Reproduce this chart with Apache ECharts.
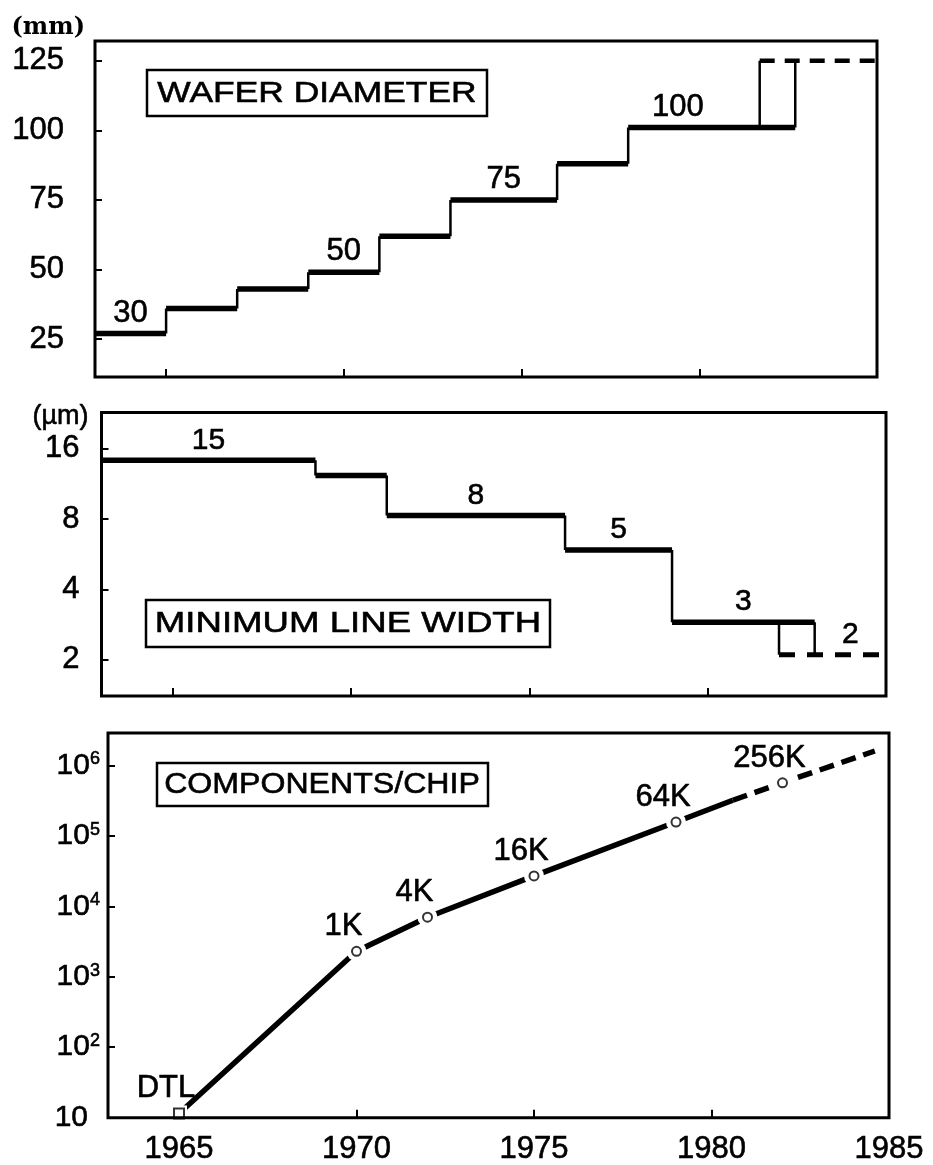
<!DOCTYPE html>
<html><head><meta charset="utf-8">
<script src="https://cdn.jsdelivr.net/npm/echarts@6/dist/echarts.min.js"></script>
<style>html,body{margin:0;padding:0;background:#fff}#c{width:933px;height:1165px}</style>
</head><body><div id="c"></div>
<script>
// ---------------- data ----------------
const yearLabels = [1965, 1970, 1975, 1980, 1985];
const yearTicks = [1965, 1970, 1975, 1980];

// Wafer diameter (mm): step edges (years) and level of each step
const waferEdges = [1963, 1965, 1967, 1969, 1971, 1973, 1976, 1978, 1982.7];
const waferMM = [27, 36, 43, 49, 62, 75, 88, 101];
const waferNextEdges = [1981.7, 1982.7];
const waferNextMM = 125;
const waferNextEnd = 1985;
const waferLabelText = ['30', '50', '75', '100'];
const waferLabelYear = [1964, 1970, 1974.5, 1979.4];
const waferLabelMM = [27, 49, 75, 101];
const waferTicks = [25, 50, 75, 100, 125];

// Minimum line width (µm)
const lwEdges = [1963, 1969, 1971, 1976, 1979, 1983];
const lwUM = [14.3, 12.3, 8.3, 5.9, 2.9];
const lwNextEdges = [1982, 1983];
const lwNextUM = 2.1;
const lwNextEnd = 1985;
const lwLabelText = ['15', '8', '5', '3', '2'];
const lwLabelYear = [1966, 1973.5, 1977.5, 1981, 1984];
const lwLabelUM = [14.3, 8.3, 5.9, 2.9, 2.1];
const lwTicks = [2, 4, 8, 16];

// Components per chip
const chipNames = ['DTL', '1K', '4K', '16K', '64K', '256K'];
const chipYears = [1965, 1970, 1972, 1975, 1979, 1982];
const chipCount = [11.5, 2300, 7000, 27000, 157000, 566000];
const chipDashYear = 1980.6, chipDashCount = 320000;   // where the line turns dashed
const chipEndYear = 1984.6, chipEndCount = 1600000;    // end of projection
const chipTicks = [10, 100, 1000, 10000, 100000, 1000000];

// ---------------- helpers ----------------
function horiz(edges, vals) {
  const d = [];
  vals.forEach((v, i) => { d.push([edges[i], v], [edges[i + 1], v], [edges[i + 1], '-']); });
  return d;
}
function vert(edges, vals) {
  const d = [];
  for (let i = 1; i < vals.length; i++) {
    d.push([edges[i], vals[i - 1]], [edges[i], vals[i]], [edges[i], '-']);
  }
  return d;
}
const BLACK = '#000';
const FONT = '"Liberation Sans", Arial, sans-serif';
const INK = { textBorderColor: BLACK, textBorderWidth: 0.6, opacity: 1 };

function lineSeries(idx, data, width, type) {
  return {
    type: 'line', xAxisIndex: idx, yAxisIndex: idx, data: data, symbol: 'none',
    connectNulls: false, silent: true, animation: false, z: 2,
    lineStyle: { color: BLACK, width: width, type: type || 'solid', cap: 'butt' }
  };
}
function labelSeries(idx, years, vals, texts, fontSize, offset, z) {
  return {
    type: 'scatter', xAxisIndex: idx, yAxisIndex: idx, symbolSize: 0, silent: true, animation: false, z: z || 3,
    itemStyle: { color: BLACK },
    data: years.map((y, i) => ({ name: texts[i], value: [y, vals[i]] })),
    label: Object.assign({ show: true, position: 'top', distance: 5, offset: offset || [0, 0], formatter: '{b}', color: BLACK, fontSize: fontSize, fontFamily: FONT }, INK)
  };
}

const wafLast = waferMM[waferMM.length - 1];
const lwLast = lwUM[lwUM.length - 1];

const chipPts = chipYears.map((y, i) => [y, chipCount[i]]);
const solidChip = chipPts.slice(0, 5).concat([[chipDashYear, chipDashCount]]);
const dashChip = [[chipDashYear, chipDashCount], chipPts[5], [chipEndYear, chipEndCount]];

const grids = [
  { left: 95, right: 56, top: 41, height: 336 },
  { left: 101.5, right: 47, top: 412.5, height: 283.5 },
  { left: 108, right: 44, top: 733, height: 385 }
].map(g => Object.assign(g, { show: true, borderColor: BLACK, borderWidth: 3, backgroundColor: 'transparent', z: 10 }));

function xAxis(idx, showLabels) {
  return {
    type: 'value', gridIndex: idx, min: 1963, max: 1985,
    axisLine: { show: false }, splitLine: { show: false },
    axisTick: { show: true, inside: true, length: 8, lineStyle: { color: BLACK, width: 2 }, customValues: yearTicks },
    axisLabel: Object.assign({ show: showLabels, customValues: yearLabels, color: BLACK, fontSize: 31, fontFamily: FONT, margin: 16,
      formatter: v => String(v) }, INK)
  };
}
const yTick = (vals) => ({ show: true, inside: true, length: 7, lineStyle: { color: BLACK, width: 2 }, customValues: vals });

const option = {
  animation: false,
  backgroundColor: '#fff',
  textStyle: { fontFamily: FONT, color: BLACK },
  grid: grids,
  xAxis: [xAxis(0, false), xAxis(1, false), xAxis(2, true)],
  yAxis: [
    {
      type: 'value', gridIndex: 0, min: 11.4, max: 132.1,
      name: '(mm)', nameLocation: 'end', nameGap: 1,
      nameTextStyle: { fontFamily: '"DejaVu Serif", serif', fontWeight: 'bold', fontSize: 24, color: BLACK, align: 'right', verticalAlign: 'bottom', padding: [0, 10, 0, 0] },
      axisLine: { show: false }, splitLine: { show: false },
      axisTick: yTick(waferTicks),
      axisLabel: Object.assign({ customValues: waferTicks, color: BLACK, fontSize: 31, fontFamily: FONT, margin: 31 }, INK)
    },
    {
      type: 'log', logBase: 2, gridIndex: 1, min: 1.40, max: 22.9,
      name: '(µm)', nameLocation: 'end', nameGap: -4,
      nameTextStyle: Object.assign({ fontFamily: FONT, fontSize: 27, color: BLACK, align: 'right', verticalAlign: 'middle', padding: [0, 13, 0, 0] }, INK),
      axisLine: { show: false }, splitLine: { show: false },
      axisTick: yTick(lwTicks),
      axisLabel: Object.assign({ customValues: lwTicks, color: BLACK, fontSize: 31, fontFamily: FONT, margin: 22 }, INK)
    },
    {
      type: 'log', logBase: 10, gridIndex: 2, min: 10, max: 2880000,
      axisLine: { show: false }, splitLine: { show: false },
      axisTick: yTick(chipTicks),
      axisLabel: {
        customValues: chipTicks, color: BLACK, fontSize: 30, fontFamily: FONT, margin: 8,
        formatter: function (v) {
          const e = Math.round(Math.log10(v));
          return e === 1 ? '{p|10}' : '{b|10}{s|' + e + '}';
        },
        rich: {
          b: Object.assign({ fontSize: 30, fontFamily: FONT, color: BLACK }, INK),
          p: Object.assign({ fontSize: 30, fontFamily: FONT, color: BLACK, padding: [0, 12, 0, 0] }, INK),
          s: Object.assign({ fontSize: 18, fontFamily: FONT, color: BLACK, verticalAlign: 'top' }, INK)
        }
      }
    }
  ],
  series: [
    // wafer diameter
    lineSeries(0, horiz(waferEdges, waferMM), 5.5),
    lineSeries(0, vert(waferEdges, waferMM), 2.5),
    lineSeries(0, [[waferNextEdges[0], wafLast], [waferNextEdges[0], waferNextMM], [waferNextEdges[0], '-'],
                   [waferNextEdges[1], wafLast], [waferNextEdges[1], waferNextMM]], 2.5),
    lineSeries(0, [[waferNextEdges[0], waferNextMM], [waferNextEnd, waferNextMM]], 4.5, [15, 10]),
    labelSeries(0, waferLabelYear, waferLabelMM, waferLabelText, 31),
    // minimum line width
    lineSeries(1, horiz(lwEdges, lwUM), 5.5),
    lineSeries(1, vert(lwEdges, lwUM), 2.5),
    lineSeries(1, [[lwNextEdges[0], lwLast], [lwNextEdges[0], lwNextUM], [lwNextEdges[0], '-'],
                   [lwNextEdges[1], lwLast], [lwNextEdges[1], lwNextUM]], 2.5),
    lineSeries(1, [[lwNextEdges[0], lwNextUM], [lwNextEnd, lwNextUM]], 5, [16, 12]),
    labelSeries(1, lwLabelYear, lwLabelUM, lwLabelText, 30),
    // components per chip
    lineSeries(2, solidChip, 5.5),
    lineSeries(2, dashChip, 5.5, [15, 8]),
    {
      type: 'scatter', xAxisIndex: 2, yAxisIndex: 2, silent: true, animation: false, z: 5,
      symbol: 'circle', symbolSize: 20,
      itemStyle: { color: '#ffffff', opacity: 1 },
      data: chipPts.map((p, i) => (i === 0 ? { value: p, symbol: 'rect', symbolSize: 16 } : { value: p }))
    },
    {
      type: 'scatter', xAxisIndex: 2, yAxisIndex: 2, silent: true, animation: false, z: 6,
      symbol: 'circle', symbolSize: 9,
      itemStyle: { color: '#fff', borderColor: BLACK, borderWidth: 2 },
      data: chipPts.map((p, i) => (i === 0 ? { value: p, symbol: 'rect', symbolSize: 10 } : { value: p }))
    },
    // point names, placed through the same scales
    labelSeries(2, chipYears, chipCount, chipNames, 31, [-13, -4], 7)
  ],
  graphic: [
    { type: 'rect', shape: { x: 147, y: 70, width: 340, height: 46 }, style: { fill: 'none', stroke: BLACK, lineWidth: 2.5 } },
    { type: 'text', x: 317, y: 94, scaleX: 1.18, style: { text: 'WAFER DIAMETER', fontSize: 30, fontFamily: FONT, fill: BLACK, stroke: BLACK, lineWidth: 0.6, align: 'center', verticalAlign: 'middle' } },
    { type: 'rect', shape: { x: 146, y: 600, width: 404, height: 47 }, style: { fill: 'none', stroke: BLACK, lineWidth: 2.5 } },
    { type: 'text', x: 348, y: 624, scaleX: 1.22, style: { text: 'MINIMUM LINE WIDTH', fontSize: 30, fontFamily: FONT, fill: BLACK, stroke: BLACK, lineWidth: 0.6, align: 'center', verticalAlign: 'middle' } },
    { type: 'rect', shape: { x: 157, y: 763, width: 331, height: 43 }, style: { fill: 'none', stroke: BLACK, lineWidth: 2.5 } },
    { type: 'text', x: 322, y: 785, scaleX: 1.07, style: { text: 'COMPONENTS/CHIP', fontSize: 30, fontFamily: FONT, fill: BLACK, stroke: BLACK, lineWidth: 0.6, align: 'center', verticalAlign: 'middle' } }
  ]
};

const chart = echarts.init(document.getElementById('c'), null, { renderer: 'canvas' });
chart.setOption(option);
</script>
</body></html>
